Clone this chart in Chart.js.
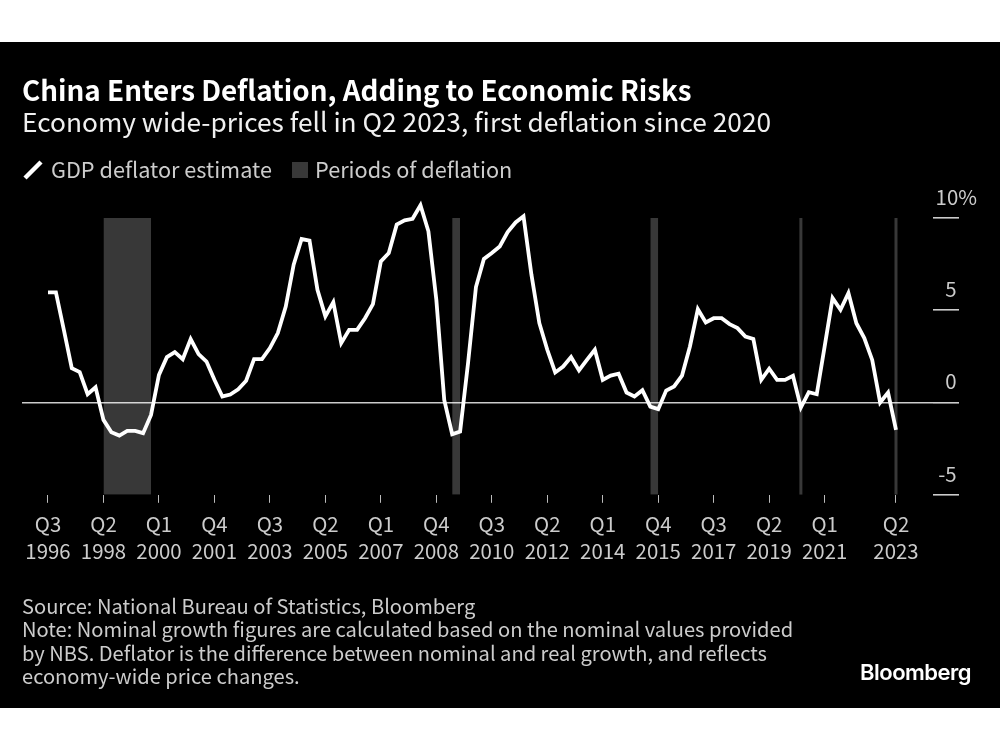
<!DOCTYPE html>
<html>
<head>
<meta charset="utf-8">
<script src="https://cdn.jsdelivr.net/npm/chart.js"></script>
<style>
html,body{margin:0;padding:0;background:#fff;}
#stage{position:relative;width:1000px;height:750px;overflow:hidden;font-family:"Noto Sans CJK SC","Noto Sans",sans-serif;}
#panel{position:absolute;left:0;top:42px;width:1000px;height:666px;background:#000;}
canvas{position:absolute;left:0;top:0;}
.t{position:absolute;white-space:nowrap;line-height:1;color:#fff;}
#title{left:22px;top:76px;font-size:27.8px;font-weight:700;}
#subtitle{left:22px;top:108px;font-size:26.3px;font-weight:400;color:#f0f0f0;}
.leg{top:158px;font-size:21.7px;color:#ccc;}
#foot{left:22px;top:594px;font-size:20.1px;line-height:23.4px;color:#ccc;}
#brand{left:860px;top:661px;font-size:22px;font-weight:600;letter-spacing:-.5px;font-family:"Inter","Liberation Sans",sans-serif;}
#slash{position:absolute;left:20px;top:158px;}
#swatch{position:absolute;left:292px;top:162px;width:16px;height:16px;background:#383838;}
</style>
</head>
<body>
<div id="stage">
  <div id="panel"></div>
  <canvas id="c" width="1000" height="750"></canvas>
  <div class="t" id="title">China Enters Deflation, Adding to Economic Risks</div>
  <div class="t" id="subtitle">Economy wide-prices fell in Q2 2023, first deflation since 2020</div>
  <svg id="slash" width="24" height="24"><line x1="5" y1="20" x2="21" y2="4" stroke="#fff" stroke-width="4.5"/></svg>
  <div class="t leg" style="left:51px">GDP deflator estimate</div>
  <div id="swatch"></div>
  <div class="t leg" style="left:315px">Periods of deflation</div>
  <div class="t" id="foot">Source: National Bureau of Statistics, Bloomberg<br>Note: Nominal growth figures are calculated based on the nominal values provided<br>by NBS. Deflator is the difference between nominal and real growth, and reflects<br>economy-wide price changes.</div>
  <div class="t" id="brand">Bloomberg</div>
</div>
<script>
// GDP deflator estimate, quarterly from Q3 1996 to Q2 2023
const deflator = [
  5.97,5.97,3.94,1.86,1.65,0.45,0.83,-0.94,-1.61,-1.79,-1.54,-1.54,-1.66,-0.67,
  1.5,2.46,2.73,2.35,3.44,2.62,2.22,1.23,0.33,0.43,0.72,1.18,2.35,2.35,
  2.95,3.76,5.2,7.47,8.86,8.77,6.11,4.67,5.44,3.22,3.94,3.94,4.57,5.33,
  7.65,8.1,9.64,9.87,9.96,10.69,9.28,5.57,0.14,-1.72,-1.57,2.13,6.26,7.78,
  8.1,8.46,9.24,9.76,10.09,6.93,4.3,2.86,1.63,1.95,2.46,1.74,2.31,2.86,
  1.23,1.46,1.56,0.54,0.33,0.67,-0.22,-0.36,0.65,0.87,1.46,3.04,5.06,4.34,
  4.57,4.57,4.25,4.03,3.58,3.45,1.23,1.83,1.23,1.23,1.45,-0.27,0.56,0.45,
  3.04,5.66,5.03,5.93,4.3,3.49,2.31,0,0.54,-1.48
];
// Deflation periods as quarter indexes into the series
const periodStarts = [7,51,76,95,107];
const periodEnds   = [13,52,77,95,107];
// X axis ticks
const xTickIndexes = [0,7,14,21,28,35,42,49,56,63,70,77,84,91,98,107];
const xTickQuarters = ['Q3','Q2','Q1','Q4','Q3','Q2','Q1','Q4','Q3','Q2','Q1','Q4','Q3','Q2','Q1','Q2'];
const xTickYears = ['1996','1998','2000','2001','2003','2005','2007','2008','2010','2012','2014','2015','2017','2019','2021','2023'];
// Y axis
const yMin = -5, yMax = 10, yStep = 5;
const yLabelUnit = '%';

const FONT = '"Noto Sans CJK SC","Noto Sans",sans-serif';
const bandColor = 'rgba(255,255,255,0.22)';

const bandDatasets = periodStarts.map((s,i)=>({
  data:[{x:s,y:yMin},{x:s,y:yMax},{x:periodEnds[i],y:yMax},{x:periodEnds[i],y:yMin}],
  borderColor:bandColor,
  backgroundColor:bandColor,
  borderWidth:s===periodEnds[i]?3:0,
  fill:{value:yMin},
  pointRadius:0,
  tension:0,
  order:2
}));

new Chart(document.getElementById('c'),{
  type:'line',
  data:{datasets:[
    {
      label:'GDP deflator estimate',
      data:deflator.map((y,x)=>({x,y})),
      borderColor:'#fff',
      borderWidth:3.8,
      borderJoinStyle:'miter',
      borderCapStyle:'butt',
      pointRadius:0,
      tension:0,
      fill:false,
      clip:false,
      order:1
    },
    ...bandDatasets
  ]},
  options:{
    responsive:false,
    animation:false,
    devicePixelRatio:1,
    layout:{padding:{left:22,right:23,top:218,bottom:155.2}},
    plugins:{legend:{display:false},tooltip:{enabled:false},title:{display:false}},
    scales:{
      x:{
        type:'linear',
        min:-3.28,
        max:111.67,
        afterBuildTicks:a=>{a.ticks=xTickIndexes.map(value=>({value}));},
        afterFit:a=>{a.height=100;},
        border:{display:false},
        grid:{drawOnChartArea:false,drawTicks:true,tickLength:8,tickColor:'#bbb',tickWidth:1},
        ticks:{
          autoSkip:false,maxRotation:0,minRotation:0,padding:8,color:'#ccc',
          font:{family:FONT,size:20.4,lineHeight:1.33},
          callback:v=>{const i=xTickIndexes.indexOf(v);return i<0?'':[xTickQuarters[i],xTickYears[i]];}
        }
      },
      y:{
        type:'linear',
        position:'right',
        min:yMin,
        max:yMax,
        afterFit:a=>{a.width=44;},
        border:{display:false},
        grid:{
          drawOnChartArea:true,drawTicks:true,tickLength:26,tickWidth:1.6,lineWidth:1.6,
          color:c=>c.tick&&c.tick.value===0?'#ccc':'rgba(0,0,0,0)',
          tickColor:'#ccc'
        },
        ticks:{
          stepSize:yStep,crossAlign:'far',padding:0,labelOffset:-21,color:'#ccc',
          font:{family:FONT,size:20.4},
          callback:v=>v===yMax?v+yLabelUnit:v+'\u2003'
        }
      }
    }
  }
});
</script>
</body>
</html>
